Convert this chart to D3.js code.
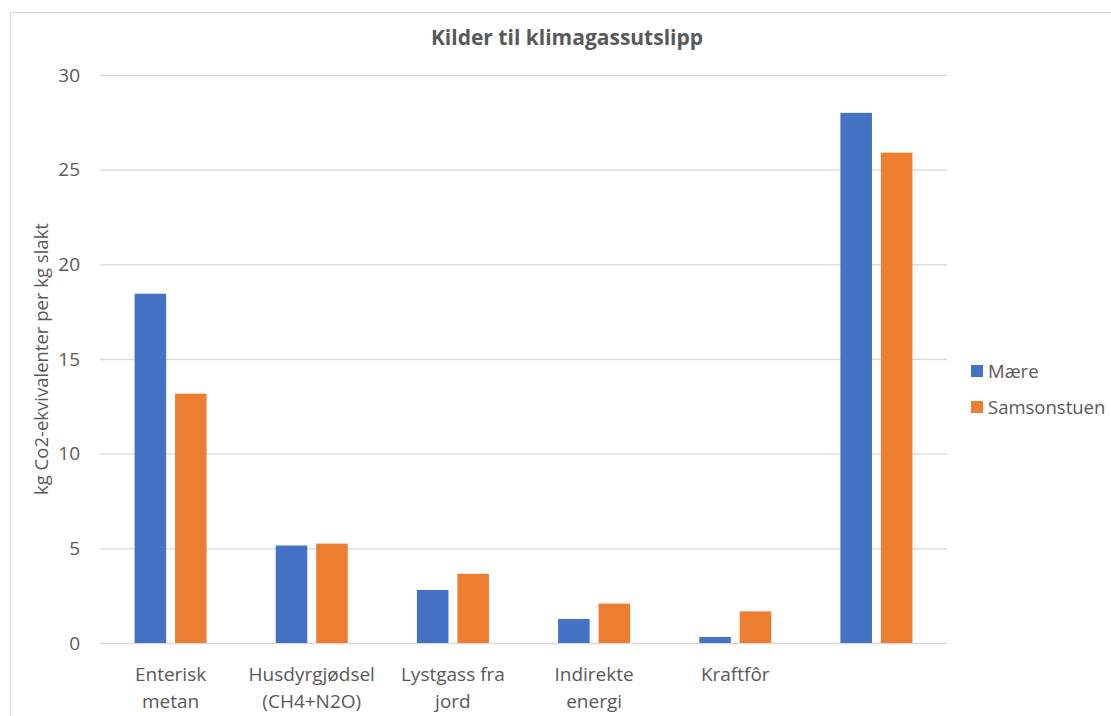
<!DOCTYPE html>
<html>
<head>
<meta charset="utf-8">
<script src="https://cdn.jsdelivr.net/npm/d3@7"></script>
<style>
  body { margin: 0; background: #fff; }
  svg { display: block; font-family: "Open Sans", "Noto Sans", sans-serif; }
</style>
</head>
<body>
<div id="chart"></div>
<script>
// Chart data
const categories = [
  ["Enterisk", "metan"],
  ["Husdyrgjødsel", "(CH4+N2O)"],
  ["Lystgass fra", "jord"],
  ["Indirekte", "energi"],
  ["Kraftfôr"],
  [],
];
const seriesNames = ["Mære", "Samsonstuen"];
const maere = [18.45, 5.15, 2.8, 1.27, 0.32, 28.0];
const samsonstuen = [13.17, 5.25, 3.65, 2.08, 1.67, 25.9];
const yTicks = [0, 5, 10, 15, 20, 25, 30];
const colors = ["#4472C4", "#ED7D31"];

const width = 1111;
const height = 716;
const marginTop = 75;
const marginRight = 164;
const marginBottom = 73;
const marginLeft = 100;

const svg = d3
  .create("svg")
  .attr("width", width)
  .attr("height", height)
  .attr("viewBox", [0, 0, width, height]);

// Chart frame
svg
  .append("rect")
  .attr("x", 10.5)
  .attr("y", 12.5)
  .attr("width", width + 10)
  .attr("height", height + 10)
  .attr("fill", "#fff")
  .attr("stroke", "#d9d9d9");

const x0 = d3
  .scaleBand()
  .domain(d3.range(categories.length))
  .range([marginLeft, width - marginRight])
  .paddingInner(0.49)
  .paddingOuter(0.245);

const x1 = d3
  .scaleBand()
  .domain(seriesNames)
  .range([0, x0.bandwidth()])
  .paddingInner(0.22);

const y = d3
  .scaleLinear()
  .domain([0, 30])
  .range([height - marginBottom, marginTop]);

// Gridlines + y labels
svg
  .append("g")
  .attr("transform", `translate(${marginLeft},0)`)
  .call(d3.axisLeft(y).tickValues(yTicks).tickSize(0).tickPadding(20))
  .call((g) => g.select(".domain").remove())
  .call((g) =>
    g
      .selectAll(".tick line")
      .clone()
      .attr("x2", width - marginLeft - marginRight)
      .attr("stroke", "#d9d9d9")
      .attr("stroke-width", 1.3),
  )
  .call((g) =>
    g
      .selectAll(".tick text")
      .attr("fill", "#595959")
      .attr("font-size", 19)
      .attr("font-family", "Open Sans, sans-serif"),
  );

// Bars
const data = seriesNames.map((name, i) => ({
  name,
  values: [maere, samsonstuen][i],
}));

data.forEach((s, i) => {
  svg
    .append("g")
    .selectAll("rect")
    .data(s.values)
    .join("rect")
    .attr("x", (d, j) => x0(j) + x1(s.name))
    .attr("y", (d) => y(d))
    .attr("width", x1.bandwidth())
    .attr("height", (d) => y(0) - y(d))
    .attr("fill", colors[i]);
});

// X labels
const xLabels = svg
  .append("g")
  .attr("fill", "#595959")
  .attr("font-size", 19)
  .attr("text-anchor", "middle");

categories.forEach((lines, j) => {
  const t = xLabels
    .append("text")
    .attr("x", x0(j) + x0.bandwidth() / 2)
    .attr("y", 681);
  lines.forEach((line, k) => {
    t.append("tspan")
      .attr("x", x0(j) + x0.bandwidth() / 2)
      .attr("dy", k === 0 ? 0 : 27)
      .text(line);
  });
});

// Title
svg
  .append("text")
  .attr("x", 567)
  .attr("y", 45)
  .attr("text-anchor", "middle")
  .attr("font-size", 21)
  .attr("font-weight", "bold")
  .attr("fill", "#595959")
  .text("Kilder til klimagassutslipp");

// Y axis title
svg
  .append("text")
  .attr("transform", `translate(48,${(y(0) + y(30)) / 2})` + " rotate(-90)")
  .attr("text-anchor", "middle")
  .attr("font-size", 18.5)
  .attr("fill", "#595959")
  .text("kg Co2-ekvivalenter per kg slakt");

// Legend
const legend = svg
  .append("g")
  .attr("transform", "translate(971,365)");

seriesNames.forEach((name, i) => {
  const g = legend.append("g").attr("transform", `translate(0,${i * 36})`);
  g.append("rect")
    .attr("width", 12)
    .attr("height", 12)
    .attr("fill", colors[i]);
  g.append("text")
    .attr("x", 17)
    .attr("y", 13)
    .attr("font-size", 18.5)
    .attr("fill", "#595959")
    .text(name);
});

document.getElementById("chart").appendChild(svg.node());
</script>
</body>
</html>
